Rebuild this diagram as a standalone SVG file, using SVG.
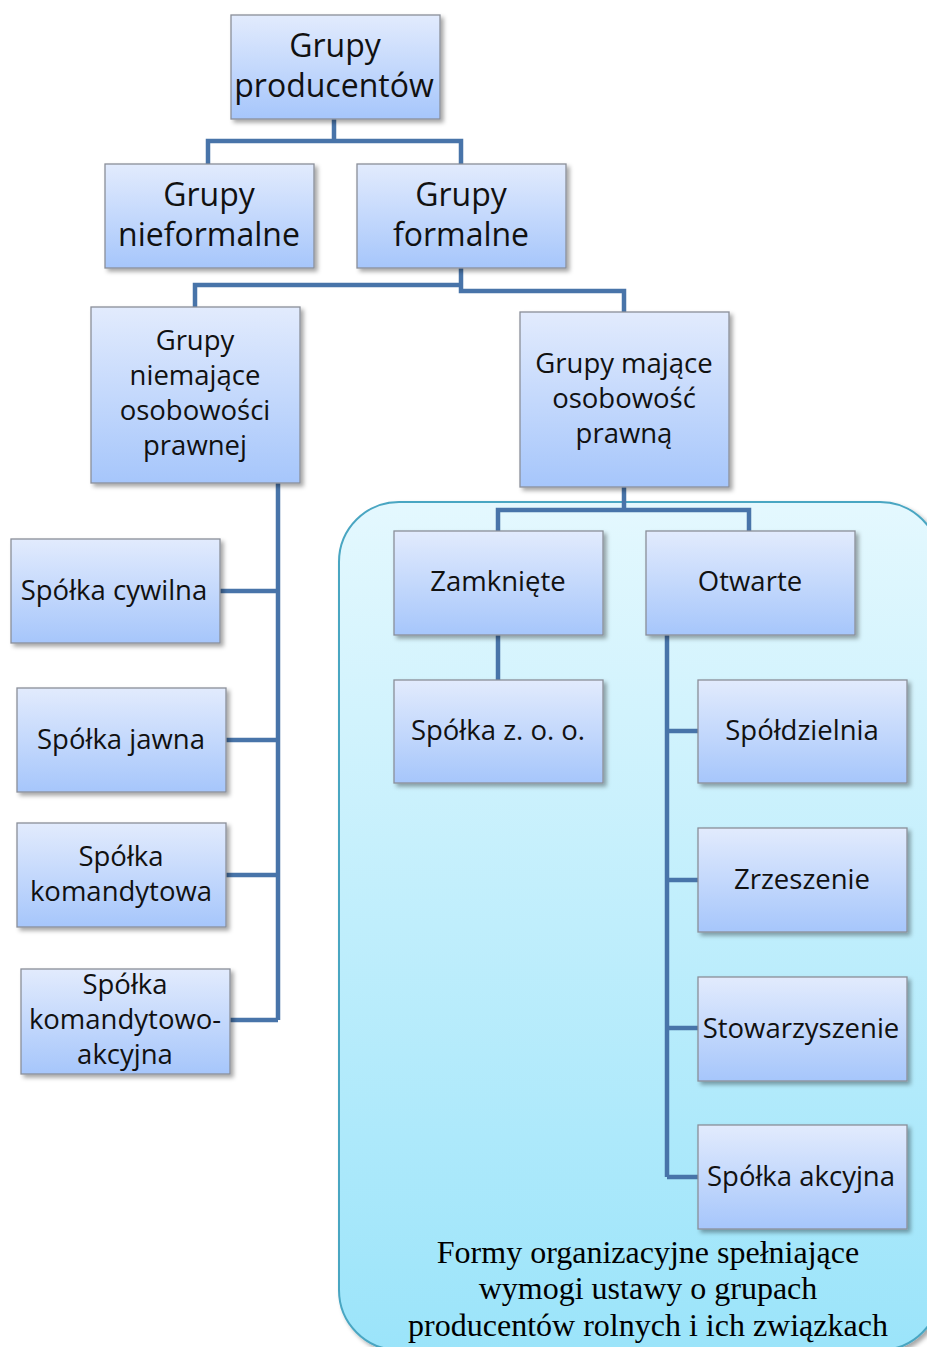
<svg xmlns="http://www.w3.org/2000/svg" width="927" height="1347" viewBox="0 0 927 1347">
<defs>
<linearGradient id="gBox" x1="0" y1="0" x2="0" y2="1">
<stop offset="0" stop-color="#e2ebfd"/>
<stop offset="1" stop-color="#a6c6fb"/>
</linearGradient>
<linearGradient id="gCont" x1="0" y1="0" x2="0" y2="1">
<stop offset="0" stop-color="#e4f8fe"/>
<stop offset="1" stop-color="#9be4fa"/>
</linearGradient>
<filter id="sh" x="-10%" y="-10%" width="125%" height="130%">
<feDropShadow dx="3" dy="3" stdDeviation="2" flood-color="#000" flood-opacity="0.35"/>
</filter>
</defs>
<style>
.box{fill:url(#gBox);stroke:#8a8f99;stroke-width:1.3;filter:url(#sh)}
.t{font-family:"Open Sans","Noto Sans",sans-serif;fill:#111;text-anchor:middle}
.big{font-size:32px}
.mid{font-size:27.5px}
.con{fill:none;stroke:#4874a9;stroke-width:4.5;stroke-linejoin:miter}
.ct{font-family:"Liberation Serif","Times New Roman",serif;font-size:32px;fill:#000;text-anchor:middle}
</style>
<rect width="927" height="1347" fill="#fff"/>
<g id="container">
<rect x="339" y="502" width="601" height="848" rx="60" fill="url(#gCont)" stroke="#4aa6c2" stroke-width="2" filter="url(#sh)"/>
<text class="ct" x="648" y="1263">Formy organizacyjne spełniające</text>
<text class="ct" x="648" y="1299">wymogi ustawy o grupach</text>
<text class="ct" x="648" y="1336">producentów rolnych i ich związkach</text>
</g>
<g id="connectors">
<path class="con" d="M334,119 V141 M208,164 V141 H461 V164"/>
<path class="con" d="M461,268 V291 H624 V312 M461,285 H195 V307"/>
<path class="con" d="M624,487 V510 M498,531 V510 H749 V531"/>
<path class="con" d="M498,635 V680"/>
<path class="con" d="M667,635 V1177 M667,731 H698 M667,880 H698 M667,1028 H698 M667,1177 H698"/>
<path class="con" d="M278,483 V1020 M220,591 H278 M226,740 H278 M226,875 H278 M230,1020 H278"/>
</g>
<g id="n-producentow"><rect class="box" x="231" y="15" width="209" height="104"/><text class="t big" x="335" y="57">Grupy</text><text class="t big" x="334" y="97">producentów</text></g>
<g id="n-nieformalne"><rect class="box" x="105" y="164" width="209" height="104"/><text class="t big" x="209" y="206">Grupy</text><text class="t big" x="209" y="246">nieformalne</text></g>
<g id="n-formalne"><rect class="box" x="357" y="164" width="209" height="104"/><text class="t big" x="461" y="206">Grupy</text><text class="t big" x="461" y="246">formalne</text></g>
<g id="n-niemajace"><rect class="box" x="91" y="307" width="209" height="176"/><text class="t mid" x="195" y="350">Grupy</text><text class="t mid" x="195" y="385">niemające</text><text class="t mid" x="195" y="420">osobowości</text><text class="t mid" x="195" y="455">prawnej</text></g>
<g id="n-majace"><rect class="box" x="520" y="312" width="209" height="175"/><text class="t mid" x="624" y="373">Grupy mające</text><text class="t mid" x="624" y="408">osobowość</text><text class="t mid" x="624" y="443">prawną</text></g>
<g id="n-zamkniete"><rect class="box" x="394" y="531" width="209" height="104"/><text class="t mid" x="498" y="591">Zamknięte</text></g>
<g id="n-otwarte"><rect class="box" x="646" y="531" width="209" height="104"/><text class="t mid" x="750" y="591">Otwarte</text></g>
<g id="n-zoo"><rect class="box" x="394" y="680" width="209" height="103"/><text class="t mid" x="498" y="740">Spółka z. o. o.</text></g>
<g id="n-spoldzielnia"><rect class="box" x="698" y="680" width="209" height="103"/><text class="t mid" x="802" y="740">Spółdzielnia</text></g>
<g id="n-zrzeszenie"><rect class="box" x="698" y="828" width="209" height="104"/><text class="t mid" x="802" y="889">Zrzeszenie</text></g>
<g id="n-stowarzyszenie"><rect class="box" x="698" y="977" width="209" height="104"/><text class="t mid" x="801" y="1038">Stowarzyszenie</text></g>
<g id="n-akcyjna"><rect class="box" x="698" y="1125" width="209" height="104"/><text class="t mid" x="801" y="1186">Spółka akcyjna</text></g>
<g id="n-cywilna"><rect class="box" x="11" y="539" width="209" height="104"/><text class="t mid" x="114" y="600">Spółka cywilna</text></g>
<g id="n-jawna"><rect class="box" x="17" y="688" width="209" height="104"/><text class="t mid" x="121" y="749">Spółka jawna</text></g>
<g id="n-komandytowa"><rect class="box" x="17" y="823" width="209" height="104"/><text class="t mid" x="121" y="866">Spółka</text><text class="t mid" x="121" y="901">komandytowa</text></g>
<g id="n-komakc"><rect class="box" x="21" y="969" width="209" height="105"/><text class="t mid" x="125" y="994">Spółka</text><text class="t mid" x="125" y="1029">komandytowo-</text><text class="t mid" x="125" y="1064">akcyjna</text></g>
</svg>
